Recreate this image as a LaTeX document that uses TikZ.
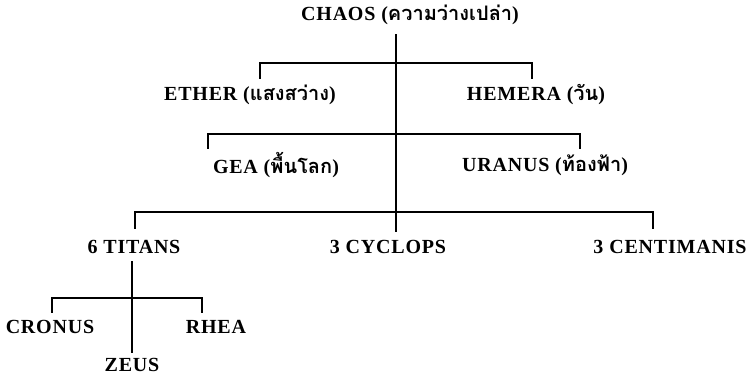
\documentclass[tikz,border=0pt]{standalone}
\usepackage{fontspec}
\setmainfont{Liberation Serif}[LetterSpace=4]
\newfontfamily\thaifnt[Script=Thai]{Loma}
\newcommand{\thtxt}[1]{{\thaifnt\bfseries\fontsize{20}{22}\selectfont #1}}
\begin{document}
\begin{tikzpicture}[x=1pt,y=-1pt,
  lbl/.style={inner sep=0pt,font=\bfseries\fontsize{20}{22}\selectfont},
  ln/.style={line width=1.4pt,line cap=rect}]
\useasboundingbox[fill=white] (0,0) rectangle (752,376);
% nodes
\node[lbl] (chaos) at (410,15) {CHAOS (\thtxt{ความว่างเปล่า})};
\node[lbl] (ether) at (250,95) {ETHER (\thtxt{แสงสว่าง})};
\node[lbl] (hemera) at (536,95) {HEMERA (\thtxt{วัน})};
\node[lbl] (gea) at (276,165) {GEA (\thtxt{พื้นโลก})};
\node[lbl] (uranus) at (545,165) {URANUS (\thtxt{ท้องฟ้า})};
\node[lbl] (titans) at (134,247) {6 TITANS};
\node[lbl] (cyclops) at (388,247) {3 CYCLOPS};
\node[lbl] (centi) at (670,247) {3 CENTIMANIS};
\node[lbl] (cronus) at (50,327) {CRONUS};
\node[lbl] (rhea) at (216,327) {RHEA};
\node[lbl] (zeus) at (132,365) {ZEUS};
% junction coordinates
\coordinate (top) at (396,35);
\coordinate (bot) at (396,231);
\coordinate (a1) at (260,78); \coordinate (a2) at (260,63);
\coordinate (b1) at (532,78); \coordinate (b2) at (532,63);
\coordinate (c1) at (208,148); \coordinate (c2) at (208,134);
\coordinate (d1) at (580,148); \coordinate (d2) at (580,134);
\coordinate (e1) at (135,228); \coordinate (e2) at (135,212);
\coordinate (f1) at (653,228); \coordinate (f2) at (653,212);
\coordinate (ttop) at (132,262);
\coordinate (tbot) at (132,352);
\coordinate (g1) at (52,312); \coordinate (g2) at (52,298);
\coordinate (h1) at (202,312); \coordinate (h2) at (202,298);
% connectors
\draw[ln] (top) -- (bot);
\draw[ln] (a1) -- (a2) -- (b2) -- (b1);
\draw[ln] (c1) -- (c2) -- (d2) -- (d1);
\draw[ln] (e1) -- (e2) -- (f2) -- (f1);
\draw[ln] (ttop) -- (tbot);
\draw[ln] (g1) -- (g2) -- (h2) -- (h1);
\end{tikzpicture}
\end{document}
